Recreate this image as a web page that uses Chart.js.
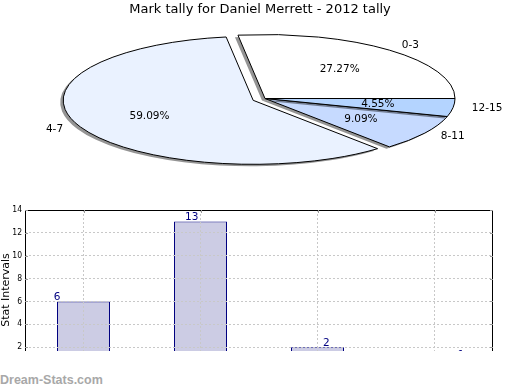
<!DOCTYPE html>
<html>
<head>
<meta charset="utf-8">
<script src="https://cdn.jsdelivr.net/npm/chart.js@4"></script>
<style>
  html, body { margin: 0; padding: 0; background: #fff; }
  #wrap { position: relative; width: 520px; height: 390px; overflow: hidden; }
  #barBox { position: absolute; left: 0; top: 0; width: 520px; height: 351px; overflow: hidden; }
  #pie { position: absolute; left: 0; top: 0; }
  #mark { position: absolute; left: 0; top: 373px; line-height: 13px;
          font: bold 12.5px "Liberation Sans", sans-serif; color: #a8a8a8; }
</style>
</head>
<body>
<div id="wrap">
  <div id="barBox"><canvas id="bars" width="520" height="380"></canvas></div>
  <canvas id="pie" width="520" height="200"></canvas>
  <div id="mark">Dream-Stats.com</div>
</div>
<script>
const categories = ['0-3', '4-7', '8-11', '12-15'];
const counts = [6, 13, 2, 1];
const sliceColors = ['#ffffff', '#eaf2ff', '#c6daff', '#b4d4ff'];
const explode = [0, 13, 0, 0];
const yTicks = { min: 0, max: 14, step: 2 };

const total = counts.reduce((a, b) => a + b, 0);

// pie is drawn as a flat ellipse: center and radii on the page
const PIE_CX = 265, PIE_CY = 98.5, RX = 190, RY = 64;
const K = RY / RX;

const squash = {
  id: 'squash',
  beforeDatasetsDraw(chart) {
    const ctx = chart.ctx;
    const arcs = chart.getDatasetMeta(0).data;
    const m = new DOMMatrix([1, 0, 0, -K, PIE_CX - arcs[0].x, PIE_CY + K * arcs[0].y]);

    ctx.save();
    ctx.setTransform(m);
    ctx.shadowColor = 'rgba(0,0,0,0.42)';
    ctx.shadowOffsetX = -3;
    ctx.shadowOffsetY = 2;
    // keep the outline 1px even though the path is squashed, no shadow on it
    ctx.stroke = function () {
      this.save();
      this.setTransform(1, 0, 0, 1, 0, 0);
      this.shadowColor = 'rgba(0,0,0,0)';
      CanvasRenderingContext2D.prototype.stroke.call(this);
      this.restore();
    };
    arcs.forEach((arc, i) => {
      const mid = (arc.startAngle + arc.endAngle) / 2;
      ctx.save();
      ctx.translate(Math.cos(mid) * explode[i], Math.sin(mid) * explode[i]);
      arc.draw(ctx);
      ctx.restore();
    });
    delete ctx.stroke;
    ctx.restore();

    // labels
    ctx.save();
    ctx.fillStyle = '#000';
    ctx.font = '10.5px "DejaVu Sans"';
    ctx.textBaseline = 'middle';
    arcs.forEach((arc, i) => {
      const mid = (arc.startAngle + arc.endAngle) / 2;
      const r = arc.outerRadius;
      const at = f => m.transformPoint(new DOMPoint(
        arc.x + Math.cos(mid) * (r * f + explode[i]),
        arc.y + Math.sin(mid) * (r * f + explode[i])));
      const p = at(0.6);
      ctx.textAlign = 'center';
      ctx.fillText((counts[i] / total * 100).toFixed(2) + '%', p.x, p.y);
      const q = at(1.1);
      ctx.textAlign = Math.cos(mid) >= 0 ? 'left' : 'right';
      ctx.fillText(categories[i], q.x, q.y);
    });
    ctx.restore();
    return false;
  }
};

new Chart(document.getElementById('pie'), {
  type: 'pie',
  data: {
    labels: categories,
    datasets: [{
      data: counts,
      backgroundColor: sliceColors,
      borderColor: '#000',
      borderWidth: 1,
      borderJoinStyle: 'miter'
    }]
  },
  options: {
    responsive: false,
    animation: false,
    devicePixelRatio: 1,
    rotation: 90,
    radius: RX,
    plugins: {
      legend: { display: false },
      tooltip: { enabled: false },
      title: {
        display: true,
        text: 'Mark tally for Daniel Merrett - 2012 tally',
        color: '#000',
        font: { family: 'DejaVu Sans', size: 13, weight: 'normal' },
        padding: { top: 2, bottom: 3 }
      }
    }
  },
  plugins: [squash]
});

const barFrame = {
  id: 'barFrame',
  afterDatasetsDraw(chart) {
    const ctx = chart.ctx;
    const meta = chart.getDatasetMeta(0);
    ctx.save();
    ctx.font = '10.5px "DejaVu Sans"';
    ctx.fillStyle = '#000080';
    ctx.textAlign = 'center';
    ctx.textBaseline = 'alphabetic';
    meta.data.forEach((bar, i) => {
      const left = bar.x - bar.width / 2;
      ctx.fillText(String(counts[i]), left + i * bar.width / 3, bar.y - 1);
    });
    ctx.restore();
  },
  afterDraw(chart) {
    const ctx = chart.ctx;
    const a = chart.chartArea;
    ctx.save();
    ctx.strokeStyle = '#000';
    ctx.lineWidth = 1;
    ctx.strokeRect(Math.round(a.left) + 0.5, Math.round(a.top) + 0.5,
      Math.round(a.right - a.left) - 1, Math.round(a.bottom - a.top));
    // small inside tick marks
    ctx.strokeStyle = '#999';
    const ys = chart.scales.y;
    ys.ticks.forEach((t, i) => {
      const y = Math.round(ys.getPixelForTick(i)) + 0.5;
      ctx.beginPath();
      ctx.moveTo(a.left, y); ctx.lineTo(a.left + 3, y);
      ctx.moveTo(a.right - 3, y); ctx.lineTo(a.right, y);
      ctx.stroke();
    });
    const xs = chart.scales.x;
    xs.ticks.forEach((t, i) => {
      const x = Math.round(xs.getPixelForTick(i)) + 0.5;
      ctx.beginPath();
      ctx.moveTo(x, a.top); ctx.lineTo(x, a.top + 3);
      ctx.stroke();
    });
    ctx.restore();
  }
};

new Chart(document.getElementById('bars'), {
  type: 'bar',
  data: {
    labels: categories,
    datasets: [{
      data: counts,
      backgroundColor: '#ccccE4',
      borderColor: '#000080',
      borderWidth: 1,
      barPercentage: 0.453,
      categoryPercentage: 1
    }]
  },
  options: {
    responsive: false,
    animation: false,
    devicePixelRatio: 1,
    layout: { padding: { top: 210, right: 27, left: 0, bottom: 0 } },
    plugins: { legend: { display: false }, tooltip: { enabled: false } },
    scales: {
      x: {
        offset: true,
        ticks: { display: false },
        grid: { offset: false, drawTicks: false, color: '#c8c8c8', z: 1 },
        border: { display: false, dash: [2, 2] },
        afterFit(s) { s.height = 10; }
      },
      y: {
        min: yTicks.min,
        max: yTicks.max,
        ticks: { stepSize: yTicks.step, padding: 3, color: '#000',
                 font: { family: 'DejaVu Sans Condensed', size: 8.5 } },
        grid: { drawTicks: false, color: '#c8c8c8', z: 1 },
        border: { display: false, dash: [2, 2] },
        title: { display: true, text: 'Stat Intervals', color: '#000', padding: 0,
                 font: { family: 'DejaVu Sans', size: 11 } },
        afterFit(s) { s.width = 25; }
      }
    }
  },
  plugins: [barFrame]
});
</script>
</body>
</html>
